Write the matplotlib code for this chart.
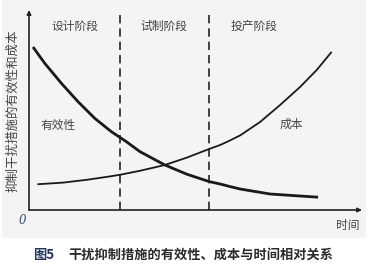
import matplotlib
matplotlib.use('Agg')
import matplotlib.pyplot as plt
from matplotlib.patches import Rectangle

plt.rcParams['font.family'] = ['Noto Sans CJK SC', 'DejaVu Sans']

# effectiveness curve (decreasing)
eff_x = [0.12, 0.47, 0.97, 1.47, 1.97, 2.47, 2.92, 3.33, 4.08, 4.74, 5.41,
         5.74, 6.04, 6.34, 7.24, 8.14, 8.68]
eff_y = [8.15, 7.34, 6.34, 5.42, 4.59, 3.92, 3.42, 2.92, 2.25, 1.79, 1.42,
         1.30, 1.17, 1.05, 0.80, 0.70, 0.64]

# cost curve (increasing)
cost_x = [0.28, 1.03, 1.78, 2.43, 2.73, 3.33, 4.08, 4.74, 5.41, 5.74, 6.04,
          6.34, 6.94, 7.54, 8.14, 8.64, 9.07]
cost_y = [1.29, 1.37, 1.52, 1.68, 1.76, 1.96, 2.25, 2.62, 3.05, 3.25, 3.48,
          3.73, 4.40, 5.25, 6.15, 7.00, 7.87]

# stage boundaries and names
bounds = [2.73, 5.41]
stages = ['设计阶段', '试制阶段', '投产阶段']
stage_x = [1.38, 4.05, 6.76]

fig = plt.figure(figsize=(3.69, 2.65), dpi=100)
fig.patch.set_facecolor('white')
fig.patches.append(Rectangle((2/369, 1-238/265), 364/369, 238/265,
                             transform=fig.transFigure, facecolor='#f4f4f4',
                             edgecolor='none', zorder=-10))

ax = fig.add_axes([29/369, 55/265, 333/369, 200/265])
ax.set_zorder(5)
ax.set_facecolor('none')
ax.set_xlim(0, 10)
ax.set_ylim(0, 10)
for s in ax.spines.values():
    s.set_visible(False)
ax.set_xticks([])
ax.set_yticks([])

# axes with arrows
ax.annotate('', xy=(10, 0), xytext=(0, 0), annotation_clip=False,
            arrowprops=dict(arrowstyle='-|>', color='#222222', lw=1.2,
                            mutation_scale=6, shrinkA=0, shrinkB=0))
ax.annotate('', xy=(0, 10), xytext=(0, 0), annotation_clip=False,
            arrowprops=dict(arrowstyle='-|>', color='#222222', lw=1.2,
                            mutation_scale=6, shrinkA=0, shrinkB=0))

for b in bounds:
    ax.plot([b, b], [0, 9.85], color='#222222', lw=1.2, linestyle=(0, (5, 3)))

ax.plot(eff_x, eff_y, color='#1a1a1a', lw=2.0, solid_capstyle='butt',
        solid_joinstyle='round')
ax.plot(cost_x, cost_y, color='#1a1a1a', lw=1.3, solid_joinstyle='round')

for name, x in zip(stages, stage_x):
    ax.text(x, 9.2, name, ha='center', va='center', fontsize=8.5, color='#444444')
ax.text(0.87, 4.2, '有效性', ha='center', va='center', fontsize=8.5, color='#444444')
ax.text(7.87, 4.3, '成本', ha='center', va='center', fontsize=8.5, color='#444444')

fig.text(13/369, 1-111/265, '抑制干扰措施的有效性和成本', rotation=90,
         ha='center', va='center', fontsize=9, color='#444444')
fig.text(22/369, 1-221/265, '0', ha='center', va='center', fontsize=8.5,
         style='italic', color='#3a4a6a', family='DejaVu Serif')
fig.text(348/369, 1-226/265, '时间', ha='center', va='center', fontsize=8.5,
         color='#444444')

fig.text(33/369, 1-255/265, '图5', ha='left', va='center', fontsize=9.5,
         fontweight='bold', color='#24365c')
fig.text(68/369, 1-255/265, '干扰抑制措施的有效性、成本与时间相对关系', ha='left',
         va='center', fontsize=9.5, fontweight='bold', color='#2a2a2a')

fig.savefig('out.png', dpi=100, facecolor='white')
